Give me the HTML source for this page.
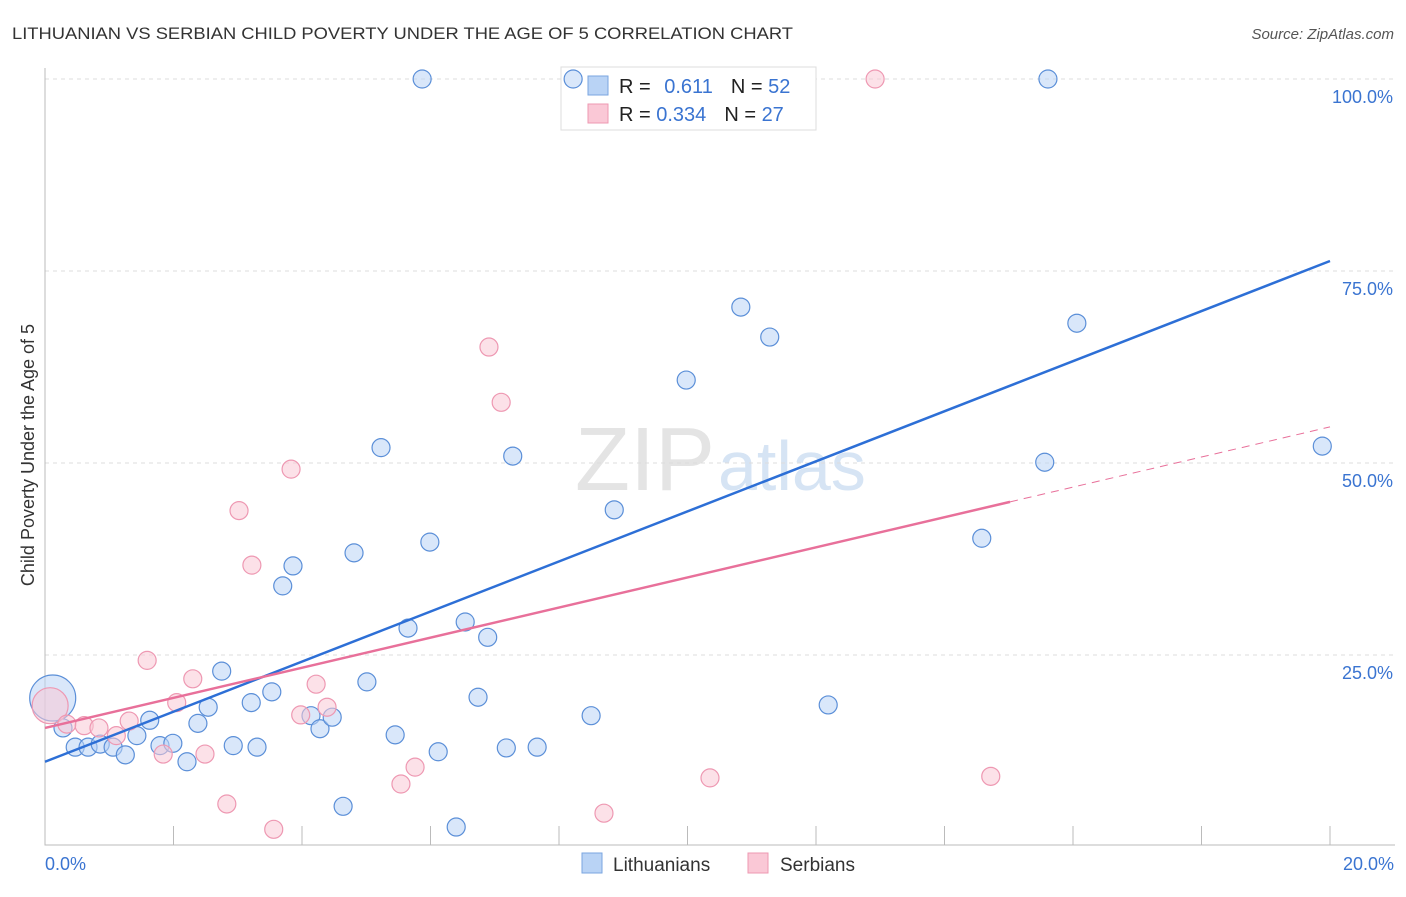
<!DOCTYPE html>
<html><head><meta charset="utf-8"><style>
body{margin:0;background:#fff;font-family:"Liberation Sans",sans-serif}
svg text{font-family:"Liberation Sans",sans-serif}
</style></head><body>
<svg width="1406" height="892" viewBox="0 0 1406 892" id="chart">
<text x="12" y="39" font-size="17" fill="#333" textLength="781" lengthAdjust="spacingAndGlyphs">LITHUANIAN VS SERBIAN CHILD POVERTY UNDER THE AGE OF 5 CORRELATION CHART</text>
<text x="1394" y="39" font-size="15" fill="#555" font-style="italic" text-anchor="end">Source: ZipAtlas.com</text>
<text x="715" y="490" font-size="90" fill="#e4e4e4" text-anchor="end" font-family="Liberation Serif">ZIP</text>
<text x="718" y="490" font-size="70" fill="#d6e4f4">atlas</text>
<text transform="translate(34,455) rotate(-90)" font-size="18" fill="#333" text-anchor="middle">Child Poverty Under the Age of 5</text>
<g id="grid"></g>
<g>
<rect x="561" y="67" width="255" height="63" fill="#fff" stroke="#ddd"/>
<rect x="588" y="76" width="20" height="19" fill="#b9d3f5" stroke="#7aa6e0"/>
<rect x="588" y="104" width="20" height="19" fill="#fac8d6" stroke="#ee98b2"/>
<text x="619" y="93" font-size="20" fill="#222">R = <tspan fill="#3a74d1" dx="8">0.611</tspan><tspan dx="18" fill="#222">N = </tspan><tspan fill="#3a74d1">52</tspan></text>
<text x="619" y="121" font-size="20" fill="#222">R = <tspan fill="#3a74d1">0.334</tspan><tspan dx="18" fill="#222">N = </tspan><tspan fill="#3a74d1">27</tspan></text>
</g>
<g id="marks"></g><g id="lines"></g>
<g>
<rect x="582" y="853" width="20" height="20" fill="#b9d3f5" stroke="#7aa6e0"/>
<text x="613" y="871" font-size="19" fill="#333">Lithuanians</text>
<rect x="748" y="853" width="20" height="20" fill="#fac8d6" stroke="#ee98b2"/>
<text x="780" y="871" font-size="19" fill="#333">Serbians</text>
</g>
</svg>
<script>
const yTicks=[25,50,75,100];
const xTickLabels=["0.0%","20.0%"];
const blueX=[0.12,0.28,0.47,0.67,0.86,1.06,1.25,1.43,1.63,1.79,1.99,2.21,2.38,2.54,2.75,2.93,3.21,3.30,3.53,3.70,3.86,4.14,4.28,4.47,4.64,4.81,5.01,5.23,5.45,5.65,5.87,5.99,6.12,6.40,6.54,6.74,6.89,7.18,7.28,7.66,8.22,8.50,8.86,9.98,10.83,11.28,12.19,14.58,15.56,15.61,16.06,19.88];
const blueY=[19.4,15.5,13.0,13.0,13.4,13.0,12.0,14.5,16.5,13.2,13.5,11.1,16.1,18.2,22.9,13.2,18.8,13.0,20.2,34.0,36.6,17.1,15.4,16.9,5.3,38.3,21.5,52.0,14.6,28.5,100,39.7,12.4,2.6,29.3,19.5,27.3,12.9,50.9,13.0,100,17.1,43.9,60.8,70.3,66.4,18.5,40.2,50.1,100,68.2,52.2];
const pinkX=[0.08,0.34,0.61,0.84,1.11,1.31,1.59,1.84,2.05,2.30,2.49,2.83,3.02,3.22,3.56,3.83,3.98,4.22,4.39,5.54,5.76,6.91,7.10,8.70,10.35,12.92,14.72];
const pinkY=[18.4,16.0,15.8,15.5,14.5,16.4,24.3,12.1,18.8,21.9,12.1,5.6,43.8,36.7,2.3,49.2,17.2,21.2,18.2,8.2,10.4,65.1,57.9,4.4,9.0,100,9.2];
const blueTrend=[11.1,3.26];
const pinkTrend=[15.5,1.96];
const pinkSolidEnd=15.02;
const NS="http://www.w3.org/2000/svg";
const X=v=>45+v*64.25, Y=v=>847-v*7.68;
function mk(t,a,p){const e=document.createElementNS(NS,t);for(const k in a)e.setAttribute(k,a[k]);p.appendChild(e);return e;}
const grid=document.getElementById('grid'),marks=document.getElementById('marks'),lines=document.getElementById('lines');
yTicks.forEach(t=>{
 const l=mk('line',{x1:45,x2:1395,y1:Y(t),y2:Y(t),stroke:'#ddd','stroke-dasharray':'4,4'},grid);
 
 
 const tx=mk('text',{x:1393,y:Y(t)+24,'font-size':18,fill:'#3a74d1','text-anchor':'end'},grid);
 tx.textContent=t.toFixed(1)+'%';
 
 
});
const ax=mk('path',{d:'M45,68V845H1395',stroke:'#bbb',fill:'none'},grid);


for(let i=1;i<=10;i++){const t=mk('line',{x1:X(i*2),x2:X(i*2),y1:826,y2:845,stroke:'#bbb'},grid);
 
 }
[[0,'start',45],[20,'end',1394]].forEach((d,i)=>{const t=mk('text',{x:d[2],y:870,'font-size':18,fill:'#3a74d1','text-anchor':d[1]},grid);t.textContent=xTickLabels[i];
 
 });
function pts(xs,ys,fill,stroke,name,big){xs.forEach((x,i)=>{const r=i===0?big:9;
 const c=mk('circle',{cx:X(x),cy:Y(ys[i]),r:r,fill:fill,'fill-opacity':0.55,stroke:stroke,'stroke-width':1.2},marks);
 
 });}
pts(blueX,blueY,'#b9d3f5','#5b8fd8','lithuanian',23);
pts(pinkX,pinkY,'#fac8d6','#ee98b2','serbian',18);
let l=mk('line',{x1:X(0),y1:Y(blueTrend[0]),x2:X(20),y2:Y(blueTrend[0]+20*blueTrend[1]),stroke:'#2d6fd6','stroke-width':2.5},lines);


l=mk('line',{x1:X(0),y1:Y(pinkTrend[0]),x2:X(pinkSolidEnd),y2:Y(pinkTrend[0]+pinkSolidEnd*pinkTrend[1]),stroke:'#e8709a','stroke-width':2.5},lines);


l=mk('line',{x1:X(pinkSolidEnd),y1:Y(pinkTrend[0]+pinkSolidEnd*pinkTrend[1]),x2:X(20),y2:Y(pinkTrend[0]+20*pinkTrend[1]),stroke:'#e8709a','stroke-width':1,'stroke-dasharray':'8,6'},lines);


</script>
</body></html>
